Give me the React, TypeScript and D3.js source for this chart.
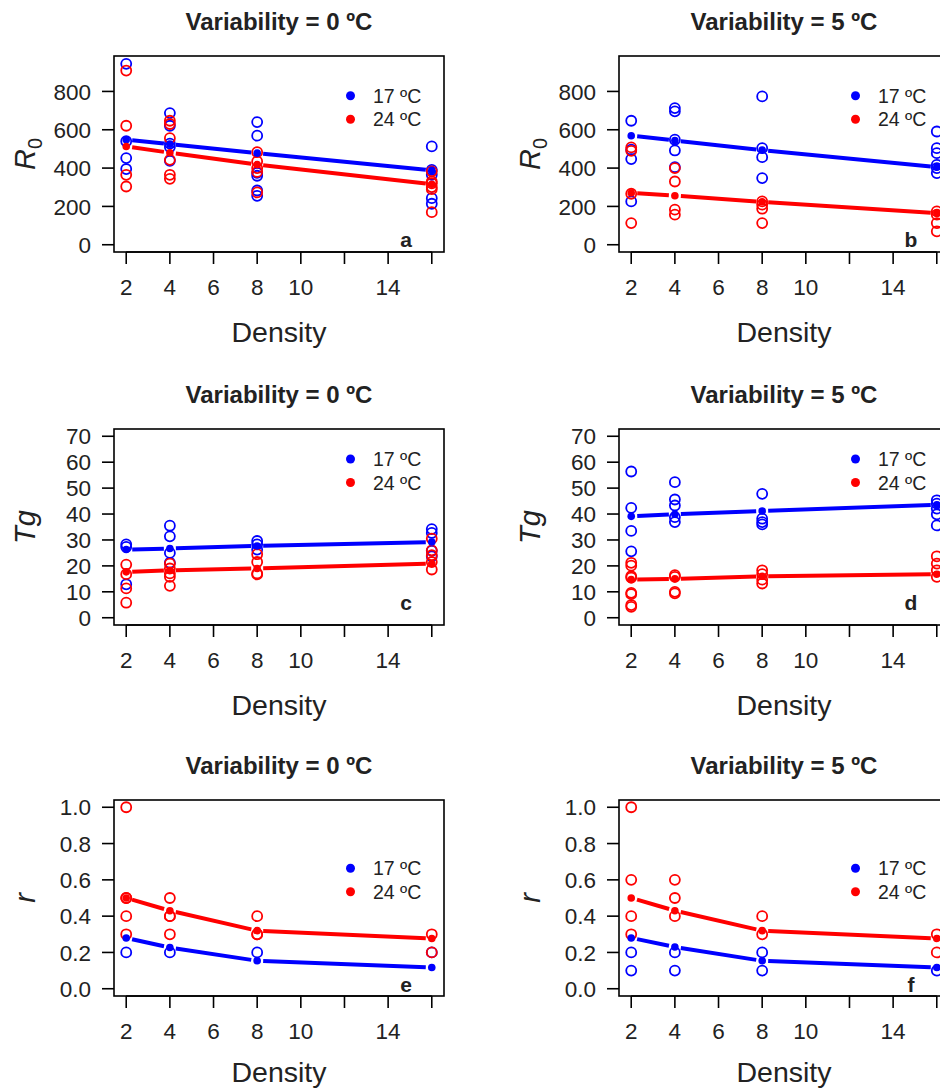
import React from 'react';
import * as d3 from 'd3';

// densities where observations were taken
const densities = [2, 4, 8, 16];
const xTicks = [2, 4, 6, 8, 10, 12, 14, 16];
const xTickLabels = ['2', '4', '6', '8', '10', '', '14', ''];

const seriesNames = ['17 ºC', '24 ºC'];
const seriesColors = ['#0000ff', '#ff0000'];

// row 1 : R0
const r0Ticks = [0, 200, 400, 600, 800];
const r0Lim = [0, 947];
const r0Var0Obs17 = [[944, 540, 452, 395], [687, 621, 528, 510, 438], [640, 569, 375, 360, 283, 255], [513, 391, 365, 243, 214]];
const r0Var0Obs24 = [[909, 621, 365, 304], [647, 630, 556, 443, 365, 344], [483, 435, 400, 380, 273], [383, 330, 320, 301, 290, 170]];
const r0Var0Fit17 = [548, 525, 478, 388];
const r0Var0Fit24 = [513, 480, 418, 316];
const r0Var5Obs17 = [[647, 496, 447, 226], [713, 696, 548, 492, 405], [774, 504, 457, 348], [591, 504, 478, 417, 400, 374]];
const r0Var5Obs24 = [[508, 490, 266, 113], [400, 330, 183, 157], [226, 209, 188, 113], [174, 157, 113, 70]];
const r0Var5Fit17 = [569, 544, 494, 405];
const r0Var5Fit24 = [270, 256, 224, 165];

// row 2 : Tg
const tgTicks = [0, 10, 20, 30, 40, 50, 60, 70];
const tgLim = [0, 70];
const tgVar0Obs17 = [[28.3, 27.3, 12.9], [35.5, 31.4, 25.0, 21.2], [29.6, 28.3, 26.3], [34.2, 32.7, 25.8, 23.7]];
const tgVar0Obs24 = [[20.5, 16.8, 11.3, 5.8], [20.9, 19.0, 17.1, 15.8, 12.3], [24.5, 21.5, 17.1, 16.7], [30.5, 26.0, 24.1, 21.5, 18.6]];
const tgVar0Fit17 = [26.3, 26.7, 27.7, 29.2];
const tgVar0Fit24 = [17.7, 18.3, 19.0, 20.9];
const tgVar5Obs17 = [[56.4, 42.4, 33.5, 25.6], [52.3, 45.6, 43.3, 38.8, 36.9], [47.8, 38.2, 36.9, 36.0], [45.3, 44.0, 42.1, 39.9, 35.6]];
const tgVar5Obs24 = [[21.2, 20.1, 16.0, 15.5, 9.6, 9.1, 4.9, 4.2], [16.4, 15.8, 10.0, 9.4], [18.3, 16.8, 14.7, 13.2], [23.7, 20.9, 18.3, 15.8]];
const tgVar5Fit17 = [39.1, 39.9, 41.2, 43.6];
const tgVar5Fit24 = [14.7, 15.0, 16.0, 16.8];

// row 3 : r
const rTicks = [0, 0.2, 0.4, 0.6, 0.8, 1.0];
const rLim = [0, 1];
const rVar0Obs17 = [[0.2], [0.2], [0.2], [0.2]];
const rVar0Obs24 = [[1.0, 0.5, 0.5, 0.4, 0.3], [0.5, 0.4, 0.4, 0.3], [0.4, 0.3, 0.3], [0.3, 0.2]];
const rVar0Fit17 = [0.28, 0.227, 0.154, 0.117];
const rVar0Fit24 = [0.5, 0.43, 0.32, 0.277];
const rVar5Obs17 = [[0.2, 0.1], [0.2, 0.1], [0.2, 0.1], [0.1]];
const rVar5Obs24 = [[1.0, 0.6, 0.4, 0.3], [0.6, 0.5, 0.4], [0.4, 0.3], [0.3, 0.2]];
const rVar5Fit17 = [0.28, 0.23, 0.154, 0.117];
const rVar5Fit24 = [0.5, 0.43, 0.32, 0.277];

const FONT = '"Liberation Sans", Arial, Helvetica, sans-serif';
const TXT = '#222';
const BOX_W = 330;
const BOX_H = 196;
const colLeft = [114, 619];
const rowTop = [56, 429, 800];

type PanelProps = {
  left: number;
  top: number;
  title: string;
  letter: string;
  letterDy: number;
  legendDy: number;
  ylim: number[];
  yTicks: number[];
  yFmt: (v: number) => string;
  ylabel: 'R0' | 'Tg' | 'r';
  obs: number[][][];
  fits: number[][];
  xlabDy?: number;
};

const pad = (lim: number[]) => {
  const d = (lim[1] - lim[0]) * 0.04;
  return [lim[0] - d, lim[1] + d];
};

const Panel: React.FC<PanelProps> = (p) => {
  const x = d3.scaleLinear().domain(pad([2, 16])).range([p.left, p.left + BOX_W]);
  const y = d3.scaleLinear().domain(pad(p.ylim)).range([p.top + BOX_H, p.top]);
  const bottom = p.top + BOX_H;
  const cx = p.left + BOX_W / 2;
  const line = d3.line<[number, number]>();
  const gap = 6;

  const segs = (fit: number[]) => {
    const pts = densities.map((d, i) => [x(d), y(fit[i])] as [number, number]);
    const out: string[] = [];
    for (let i = 0; i < pts.length - 1; i++) {
      const [x1, y1] = pts[i];
      const [x2, y2] = pts[i + 1];
      const len = Math.hypot(x2 - x1, y2 - y1);
      const ux = (x2 - x1) / len, uy = (y2 - y1) / len;
      out.push(line([[x1 + ux * gap, y1 + uy * gap], [x2 - ux * gap, y2 - uy * gap]]) || '');
    }
    return out;
  };

  return (
    <g>
      <text x={cx} y={p.top - 26} textAnchor="middle" fontSize={24} fontWeight="bold" fill={TXT}>{p.title}</text>
      {/* observations */}
      {p.obs.map((ser, si) => (
        <g key={'o' + si}>
          {ser.map((vals, di) => vals.map((v, k) => (
            <circle key={di + '-' + k} cx={x(densities[di])} cy={y(v)} r={5} fill="none" stroke={seriesColors[si]} strokeWidth={1.8} />
          )))}
        </g>
      ))}
      {/* fitted values, type = "b" */}
      {p.fits.map((fit, si) => (
        <g key={'f' + si}>
          {segs(fit).map((d, i) => (
            <path key={i} d={d} stroke={seriesColors[si]} strokeWidth={4} fill="none" />
          ))}
          {fit.map((v, i) => (
            <circle key={i} cx={x(densities[i])} cy={y(v)} r={3.8} fill={seriesColors[si]} />
          ))}
        </g>
      ))}
      {/* box */}
      <rect x={p.left} y={p.top} width={BOX_W} height={BOX_H} fill="none" stroke="#000" strokeWidth={1.6} />
      {/* x axis */}
      <line x1={x(xTicks[0])} x2={x(xTicks[xTicks.length - 1])} y1={bottom} y2={bottom} stroke="#000" strokeWidth={1.6} />
      {xTicks.map((t, i) => (
        <g key={'xt' + t}>
          <line x1={x(t)} x2={x(t)} y1={bottom} y2={bottom + 12} stroke="#000" strokeWidth={1.6} />
          <text x={x(t)} y={bottom + 43} textAnchor="middle" fontSize={22.5} fill={TXT}>{xTickLabels[i]}</text>
        </g>
      ))}
      <text x={cx} y={bottom + (p.xlabDy ?? 90)} textAnchor="middle" fontSize={28.5} fill={TXT}>Density</text>
      {/* y axis */}
      {p.yTicks.map((t) => (
        <g key={'yt' + t}>
          <line x1={p.left - 12} x2={p.left} y1={y(t)} y2={y(t)} stroke="#000" strokeWidth={1.6} />
          <text x={p.left - 23} y={y(t)} dy="0.36em" textAnchor="end" fontSize={22.5} fill={TXT}>{p.yFmt(t)}</text>
        </g>
      ))}
      <text transform={`translate(${p.left - 79},${p.top + BOX_H / 2}) rotate(-90)`} textAnchor="middle" fontSize={29} fill={TXT}>
        {p.ylabel === 'R0' ? (
          <>
            <tspan fontStyle="italic">R</tspan>
            <tspan fontSize={20} dy={7}>0</tspan>
          </>
        ) : (
          <tspan fontStyle="italic">{p.ylabel}</tspan>
        )}
      </text>
      {/* legend */}
      {seriesNames.map((n, i) => (
        <g key={'lg' + i}>
          <circle cx={p.left + 236.5} cy={p.top + p.legendDy + i * 23.5} r={4.5} fill={seriesColors[i]} />
          <text x={p.left + 259} y={p.top + p.legendDy + i * 23.5} dy="0.36em" fontSize={19.5} fill={TXT}>{n}</text>
        </g>
      ))}
      <text x={p.left + 292} y={bottom - p.letterDy} textAnchor="middle" fontSize={21} fontWeight="bold" fill={TXT}>{p.letter}</text>
    </g>
  );
};

const fmt0 = (v: number) => String(v);
const fmt1 = (v: number) => v.toFixed(1);

export default function App() {
  return (
    <svg width={940} height={1090} style={{ position: 'absolute', left: 0, top: 0, background: '#fff' }} fontFamily={FONT}>
      <rect x={0} y={0} width={940} height={1090} fill="#fff" />
      <Panel left={colLeft[0]} top={rowTop[0]} title="Variability = 0 ºC" letter="a" letterDy={5} legendDy={39.7}
        ylim={r0Lim} yTicks={r0Ticks} yFmt={fmt0} ylabel="R0" obs={[r0Var0Obs17, r0Var0Obs24]} fits={[r0Var0Fit17, r0Var0Fit24]} />
      <Panel left={colLeft[1]} top={rowTop[0]} title="Variability = 5 ºC" letter="b" letterDy={5} legendDy={39.7}
        ylim={r0Lim} yTicks={r0Ticks} yFmt={fmt0} ylabel="R0" obs={[r0Var5Obs17, r0Var5Obs24]} fits={[r0Var5Fit17, r0Var5Fit24]} />
      <Panel left={colLeft[0]} top={rowTop[1]} title="Variability = 0 ºC" letter="c" letterDy={15} legendDy={30}
        ylim={tgLim} yTicks={tgTicks} yFmt={fmt0} ylabel="Tg" obs={[tgVar0Obs17, tgVar0Obs24]} fits={[tgVar0Fit17, tgVar0Fit24]} />
      <Panel left={colLeft[1]} top={rowTop[1]} title="Variability = 5 ºC" letter="d" letterDy={15} legendDy={30}
        ylim={tgLim} yTicks={tgTicks} yFmt={fmt0} ylabel="Tg" obs={[tgVar5Obs17, tgVar5Obs24]} fits={[tgVar5Fit17, tgVar5Fit24]} />
      <Panel left={colLeft[0]} top={rowTop[2]} title="Variability = 0 ºC" letter="e" letterDy={4} legendDy={68.3} xlabDy={86}
        ylim={rLim} yTicks={rTicks} yFmt={fmt1} ylabel="r" obs={[rVar0Obs17, rVar0Obs24]} fits={[rVar0Fit17, rVar0Fit24]} />
      <Panel left={colLeft[1]} top={rowTop[2]} title="Variability = 5 ºC" letter="f" letterDy={4} legendDy={68.3} xlabDy={86}
        ylim={rLim} yTicks={rTicks} yFmt={fmt1} ylabel="r" obs={[rVar5Obs17, rVar5Obs24]} fits={[rVar5Fit17, rVar5Fit24]} />
    </svg>
  );
}
